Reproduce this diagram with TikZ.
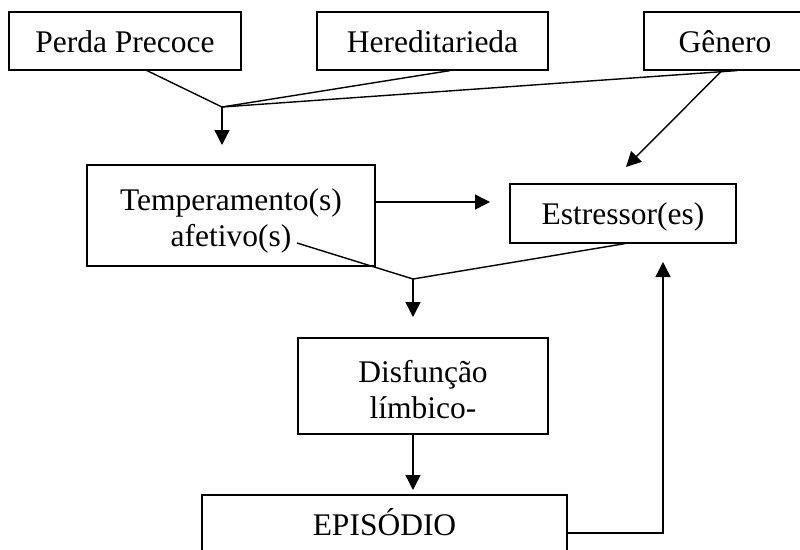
\documentclass[tikz,border=0pt]{standalone}
\usepackage{fontspec}
\setmainfont{Liberation Serif}
\usetikzlibrary{arrows.meta,calc}
\begin{document}
\begin{tikzpicture}[x=1pt,y=-1pt,
  font=\fontsize{31.5}{36}\selectfont,
  box/.style={draw, line width=1.6pt, inner sep=0pt},
  one/.style={box, text height=41pt, text depth=17pt},
  conn/.style={line width=1.4pt},
  arr/.style={conn, -{Triangle[length=15pt,width=15pt]}}]
\useasboundingbox (0,0) rectangle (800,549);
\clip (0,0) rectangle (800,549);
% boxes
\node[one, minimum width=232pt, anchor=north] (perda) at (125,11) {Perda Precoce};
\node[one, minimum width=231pt, anchor=north] (hered) at (432.5,11) {Hereditarieda};
\node[one, minimum width=162pt, anchor=north] (gen) at (725,11) {Gênero};
\node[box, minimum width=288pt, minimum height=101pt] (temp) at (231,215.5)
  {\raisebox{-6pt}[\height][\depth]{\begin{tabular}{@{}c@{}}Temperamento(s)\\afetivo(s)\end{tabular}}};
\node[box, text height=41pt, text depth=18pt, minimum width=226pt, anchor=north] (estr) at (623,183) {Estressor(es)};
\node[box, minimum width=250pt, minimum height=96pt] (disf) at (423,386)
  {\raisebox{-7pt}[\height][\depth]{\begin{tabular}{@{}c@{}}Disfunção\\límbico-\end{tabular}}};
\node[box, text height=41pt, text depth=30pt, minimum width=365pt, anchor=north] (epis) at (384.5,494) {EPISÓDIO};
% helper coordinates
\coordinate (j1) at (222,107);
\coordinate (t1) at (222,145);
\coordinate (t2) at (626,167);
\coordinate (t3) at (490,202);
\coordinate (af) at (297,243);
\coordinate (j2) at (413,279);
\coordinate (t4) at (413,317);
\coordinate (t5) at (413,490);
\coordinate (c1) at (663,533);
\coordinate (t6) at (663,262);
% connectors
\draw[conn] ([xshift=22pt]perda.south) -- (j1);
\draw[conn] ([xshift=17.5pt]hered.south) -- (j1);
\draw[conn] ([xshift=12pt]gen.south) -- (j1);
\draw[arr] (j1) -- (t1);
\draw[arr] ([xshift=-3pt]gen.south) -- (t2);
\draw[arr] (temp.east |- t3) -- (t3);
\draw[conn] (af) -- (j2);
\draw[conn] ([xshift=2pt]estr.south) -- (j2);
\draw[arr] (j2) -- (t4);
\draw[arr] (disf.south -| t5) -- (t5);
\draw[arr] (epis.east |- c1) -- (c1) -- (t6);
\end{tikzpicture}
\end{document}
